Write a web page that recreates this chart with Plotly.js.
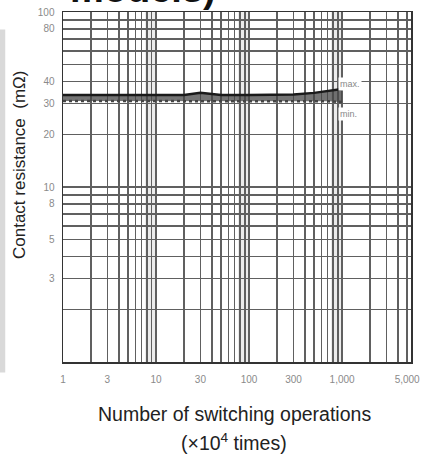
<!DOCTYPE html>
<html>
<head>
<meta charset="utf-8">
<script src="https://cdn.plot.ly/plotly-3.0.1.min.js"></script>
<style>
html,body{margin:0;padding:0;background:#fff;}
#chart{width:421px;height:460px;}
</style>
</head>
<body>
<div id="chart"></div>
<script>
// ---- data ----
var operations = [1, 2, 3, 5, 10, 20, 30, 50, 100, 200, 300, 500, 700, 1000];
var maxResistance = [33.5, 33.5, 33.4, 33.4, 33.3, 33.6, 34.5, 33.6, 33.5, 33.6, 33.8, 34.5, 35.3, 36.3];
var minResistance = [31.0, 31.0, 31.0, 31.0, 30.9, 31.0, 31.1, 31.0, 31.0, 31.0, 31.0, 31.0, 30.9, 30.6];

var xTickLabelVals = [1, 3, 10, 30, 100, 300, 1000, 5000];
var xTickLabelText = ['1', '3', '10', '30', '100', '300', '1,000', '5,000'];
var yTickLabelVals = [3, 5, 8, 10, 20, 30, 40, 80, 100];
var yTickLabelText = ['3', '5', '8', '10', '20', '30', '40', '80', '100'];

// grid positions: every digit of every decade
function gridTicks(decades, labelVals, labelText) {
  var vals = [], text = [];
  decades.forEach(function (d) {
    for (var k = 1; k <= 9; k++) {
      var v = Math.round(k * d * 1000) / 1000;
      vals.push(v);
      var idx = labelVals.indexOf(v);
      text.push(idx >= 0 ? labelText[idx] : '');
    }
  });
  return {vals: vals, text: text};
}
var xg = gridTicks([1, 10, 100, 1000], xTickLabelVals, xTickLabelText);
var yg = gridTicks([1, 10], yTickLabelVals, yTickLabelText);
yg.vals.push(100); yg.text.push('100');

var traces = [
  {
    x: operations, y: minResistance, type: 'scatter', mode: 'lines',
    line: {color: '#444', width: 2.5, dash: 'dot'}, hoverinfo: 'skip', showlegend: false
  },
  {
    x: operations, y: maxResistance, type: 'scatter', mode: 'lines',
    line: {color: '#1a1a1a', width: 2.5},
    fill: 'tonexty', fillcolor: 'rgba(70,70,70,0.75)', hoverinfo: 'skip', showlegend: false
  }
];

// faint scan bands near the end of each decade
var bandShapes = [1, 10, 100].map(function (d) {
  return {type: 'rect', xref: 'x', yref: 'paper', x0: 7.6 * d, x1: 10 * d, y0: 0, y1: 1,
    fillcolor: '#ececec', line: {width: 0}, layer: 'below'};
});
bandShapes.push({type: 'rect', xref: 'paper', yref: 'paper', x0: -0.181, x1: -0.166, y0: -0.03, y1: 0.95,
  fillcolor: '#d9d9d9', line: {width: 0}, layer: 'below'});

var titleFont = {size: 19.5, color: '#222', family: 'Liberation Sans, Arial, sans-serif'};

var layout = {
  width: 421, height: 460,
  margin: {l: 63, r: 10, t: 12, b: 98},
  paper_bgcolor: '#fff', plot_bgcolor: 'rgba(0,0,0,0)',
  font: {family: 'Liberation Sans, Arial, sans-serif', color: '#222'},
  xaxis: {
    type: 'log', range: [0, Math.log10(5500)],
    tickmode: 'array', tickvals: xg.vals, ticktext: xg.text,
    ticks: '', tickfont: {size: 10, color: '#8a8a8a'}, ticklabelstandoff: 7,
    showgrid: true, gridcolor: '#606060', gridwidth: 1.4,
    showline: true, linecolor: '#333', linewidth: 1.5, mirror: true,
    zeroline: false, fixedrange: true
  },
  yaxis: {
    type: 'log', range: [0, 2],
    tickmode: 'array', tickvals: yg.vals, ticktext: yg.text,
    ticks: '', tickfont: {size: 10, color: '#8a8a8a'}, ticklabelstandoff: 5,
    showgrid: true, gridcolor: '#606060', gridwidth: 1.4,
    showline: true, linecolor: '#333', linewidth: 1.5, mirror: true,
    zeroline: false, fixedrange: true
  },
  shapes: bandShapes,
  annotations: [
    {text: 'max.', xref: 'paper', yref: 'paper', x: 0.79, y: 0.815, showarrow: false,
      font: {size: 9, color: '#888'}, xanchor: 'left', bgcolor: '#fff'},
    {text: 'min.', xref: 'paper', yref: 'paper', x: 0.79, y: 0.728, showarrow: false,
      font: {size: 9, color: '#888'}, xanchor: 'left', bgcolor: '#fff'},
    {text: '<b>models)</b>', xref: 'paper', yref: 'paper', x: 0.23, y: 1.0, yanchor: 'bottom',
      xanchor: 'center', showarrow: false, font: {size: 38, color: '#111', family: 'Liberation Sans, Arial, sans-serif'}},
    {text: 'Number of switching operations', xref: 'paper', yref: 'paper', x: (234 - 63) / 348, y: (362 - 427) / 350,
      xanchor: 'center', yanchor: 'bottom', showarrow: false, font: titleFont},
    {text: '(×10<sup>4</sup> times)', xref: 'paper', yref: 'paper', x: (234 - 63) / 348, y: (362 - 428) / 350,
      xanchor: 'center', yanchor: 'top', showarrow: false, font: titleFont},
    {text: 'Contact resistance  (mΩ)', xref: 'paper', yref: 'paper', x: (19 - 63) / 348, y: (362 - 165) / 350,
      xanchor: 'center', yanchor: 'middle', textangle: -90, showarrow: false,
      font: {size: 17, color: '#222', family: 'Liberation Sans, Arial, sans-serif'}}
  ],
  showlegend: false
};

Plotly.newPlot('chart', traces, layout, {displayModeBar: false, staticPlot: true});
</script>
</body>
</html>
